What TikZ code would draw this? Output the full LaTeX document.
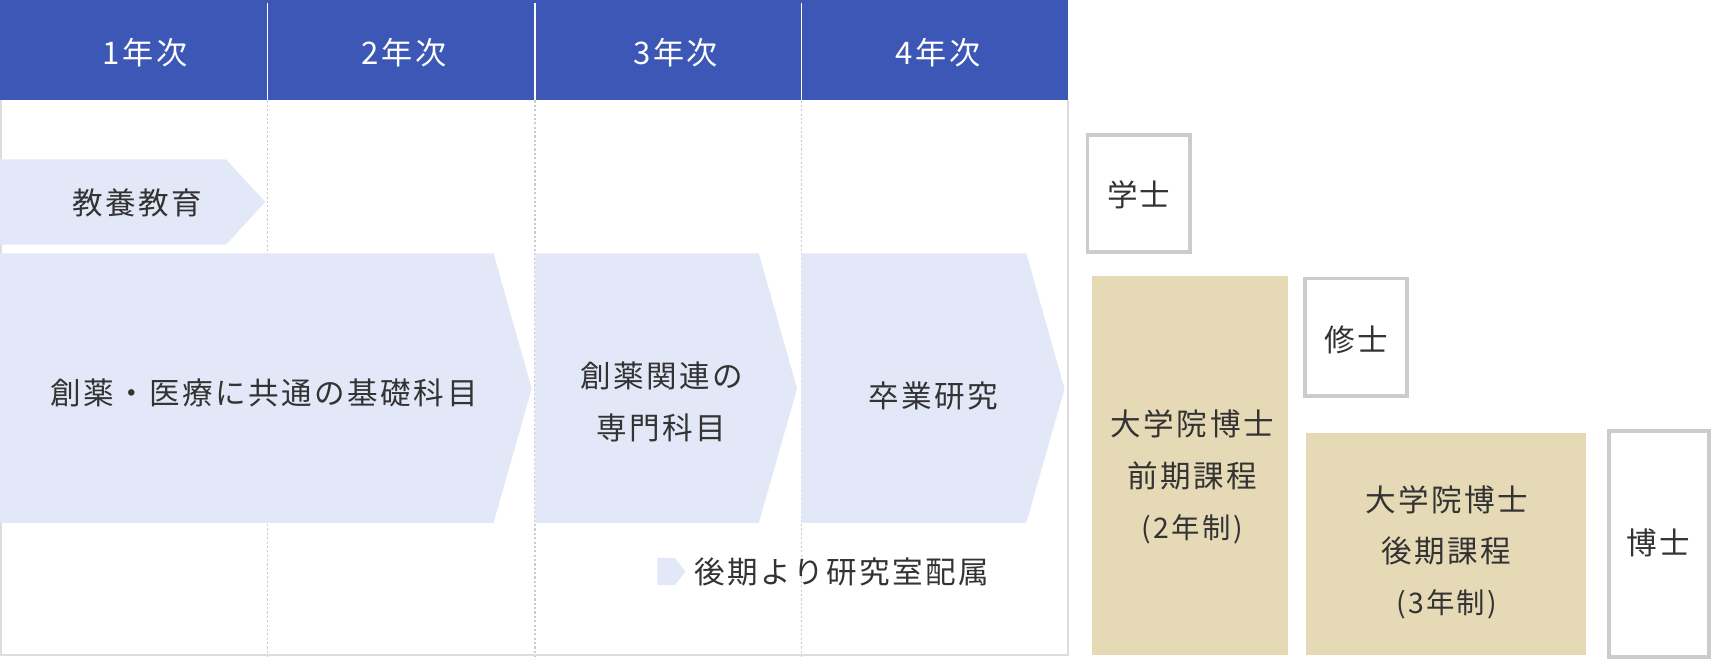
\documentclass[tikz,border=0pt]{standalone}
\usepackage{fontspec}
\setmainfont{Noto Sans CJK JP}
\newfontfamily\jpfont[LetterSpace=8]{Noto Sans CJK JP}
\definecolor{hdrblue}{RGB}{60,87,181}
\definecolor{arrowfill}{RGB}{227,232,248}
\definecolor{tan}{RGB}{229,217,182}
\definecolor{boxgray}{RGB}{204,204,204}
\definecolor{framegray}{RGB}{221,221,221}
\definecolor{txt}{RGB}{51,51,51}
\tikzset{
  hdrtext/.style={text=white, font=\jpfont\fontsize{28.5}{30}\selectfont, inner sep=0pt},
  lbl/.style={text=txt, font=\jpfont\fontsize{28}{47}\selectfont, align=center, inner sep=0pt},
  arrowshape/.style={fill=arrowfill, draw=none},
  degbox/.style={draw=boxgray, line width=3.5pt, fill=white},
  coursebox/.style={fill=tan, draw=none},
  coldiv/.style={draw=boxgray, line width=1pt, dash pattern=on 2pt off 2pt},
  hdrdiv/.style={draw=white, line width=1pt},
  frameline/.style={draw=framegray, line width=2pt}
}
\begin{document}
\begin{tikzpicture}[x=1pt,y=-1pt]
\useasboundingbox (0,0) rectangle (1568,604);
% header
\fill[hdrblue] (0,0) rectangle (978,92);
\foreach \xx in {245,490,734} {
  \draw[hdrdiv] (\xx,3) -- (\xx,92);
  \draw[coldiv] (\xx,92) -- (\xx,604);
}
% frame
\draw[frameline] (1,92) -- (1,600) -- (978,600) -- (978,92);
\node[hdrtext] (y1) at (133,48) {1年次};
\node[hdrtext] (y2) at (370,48) {2年次};
\node[hdrtext] (y3) at (619,48) {3年次};
\node[hdrtext] (y4) at (859,48) {4年次};
% arrows
\path[arrowshape] (0,146) -- (207,146) -- (243,185) -- (207,224) -- (0,224) -- cycle;
\node[lbl] (kyoyo) at (126,186) {教養教育};
\path[arrowshape] (0,232) -- (452,232) -- (487,356) -- (452,479) -- (0,479) -- cycle;
\node[lbl] (kiso) at (242,360) {創薬・医療に共通の基礎科目};
\path[arrowshape] (490,232) -- (695,232) -- (730,356) -- (695,479) -- (490,479) -- cycle;
\node[lbl] (senmon) at (606,368) {創薬関連の\\専門科目};
\path[arrowshape] (734,232) -- (940,232) -- (975,356) -- (940,479) -- (734,479) -- cycle;
\node[lbl] (sotsu) at (855,363) {卒業研究};
% legend
\path[arrowshape] (602,511) -- (618,511) -- (628,523.5) -- (618,536) -- (602,536) -- cycle;
\node[lbl, anchor=west] (legend) at (636,524) {後期より研究室配属};
% right side
\draw[degbox] (996,124) rectangle (1090,231);
\node[lbl] (gakushi) at (1043,178) {学士};
\fill[coursebox] (1000,253) rectangle (1180,600);
\node[lbl] (zenki) at (1092,437) {大学院博士\\前期課程\\{\fontsize{26}{30}\selectfont (2年制)}};
\draw[degbox] (1195,255) rectangle (1289,363);
\node[lbl] (shushi) at (1242,311) {修士};
\fill[coursebox] (1196,397) rectangle (1453,600);
\node[lbl] (koki) at (1325,506) {大学院博士\\後期課程\\{\fontsize{26}{30}\selectfont (3年制)}};
\draw[degbox] (1474,395) rectangle (1565,602);
\node[lbl] (hakushi) at (1519,497) {博士};
\end{tikzpicture}
\end{document}
